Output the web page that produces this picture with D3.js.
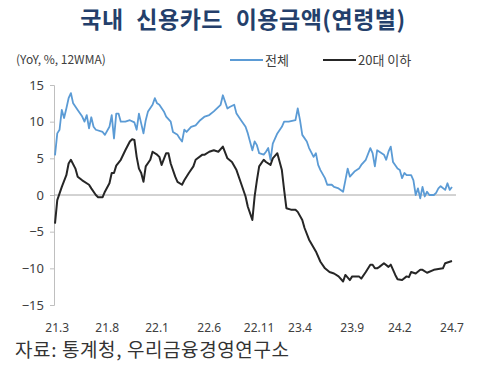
<!DOCTYPE html>
<html>
<head>
<meta charset="utf-8">
<script src="https://cdn.jsdelivr.net/npm/d3@7"></script>
<style>
  body { margin: 0; background: #fff; }
  svg { display: block; font-family: "Noto Sans CJK KR", "Noto Sans", sans-serif; }
</style>
</head>
<body>
<svg width="482" height="366"></svg>
<script>
// weekly 12WMA YoY, week 0 = first week of Mar 2021
var totalWeeks = [0,1,2,3,4,5,6,7,8,10,12,13,14,15,16,17,18,21,22,24,25,26,27,28,29,31,33,35,
  36,37,39,40,41,43,44,45,46,48,49,51,52,54,55,56,57,58,60,62,64,66,68,70,73,74,76,77,79,80,82,84,85,
  87,88,89,90,92,93,94,95,96,98,100,101,103,106,107,108,109,111,112,114,115,116,117,119,120,122,123,
  125,127,128,129,130,132,134,135,137,139,140,141,142,143,145,146,147,148,149,151,152,153,154,155,157,
  158,159,160,161,162,163,164,165,167,168,169,170,172,173,174,175];
var totalValues = [5.4,8.4,8.9,11.6,10.5,11.8,13.2,13.9,12.5,11.6,10.7,10.0,10.9,9.1,10.6,9.3,8.9,8.6,8.2,9.3,10.9,7.7,11.1,11.1,10.0,10.0,10.2,9.9,
  8.9,11.1,8.4,10.2,11.4,12.3,13.2,12.5,12.3,11.4,10.7,10.0,8.6,8.2,7.7,7.3,8.9,8.6,9.3,9.5,10.2,10.7,10.9,11.4,12.3,13.6,11.8,12.0,12.3,11.1,10.2,9.3,8.4,
  6.1,7.3,6.8,5.7,5.5,5.9,6.4,4.8,7.0,8.4,9.3,10.0,10.0,10.2,11.8,10.2,8.2,7.3,6.4,5.2,5.7,4.1,3.4,2.3,1.4,1.4,1.1,
  0.9,0.45,2.0,3.6,2.5,3.2,3.6,4.1,4.8,6.4,5.7,3.9,6.1,5.9,5.5,4.8,5.9,6.6,4.5,3.6,3.4,2.3,3.0,2.7,2.7,
  2.0,0.0,0.9,-0.45,1.1,-0.2,0.45,0.0,0.0,0.3,0.9,1.2,0.7,1.6,0.7,1.1];

var youngWeeks = [0,1,3,5,6,7,9,10,12,15,16,18,19,21,22,24,25,26,27,29,31,33,34,35,36,37,38,39,40,42,43,45,46,47,
  49,50,51,53,54,56,57,59,61,62,65,66,68,70,72,74,76,78,80,82,84,85,87,88,89,90,92,93,95,96,98,100,101,102,
  104,106,107,109,110,112,115,117,119,121,123,125,127,128,130,131,134,135,137,139,140,141,142,143,145,147,148,
  150,151,153,155,156,157,159,161,162,164,167,169,171,172,174,175];
var youngValues = [-3.9,-0.7,1.1,2.7,4.3,4.8,3.6,2.5,2.0,1.4,0.9,0.0,-0.3,-0.3,0.45,1.6,3.0,3.0,4.0,4.8,6.1,7.3,7.6,7.5,5.2,3.6,3.0,1.8,3.9,4.8,5.9,5.5,5.2,4.1,
  5.7,5.7,4.3,2.5,1.8,1.4,2.0,3.0,3.9,4.8,5.5,5.5,5.9,6.1,5.9,6.6,5.0,4.5,3.4,1.6,-0.2,-1.6,-3.4,-0.2,2.0,3.9,4.8,4.5,4.1,5.0,5.7,3.4,0.7,-1.8,
  -2.0,-2.0,-2.3,-3.4,-4.5,-6.1,-7.7,-9.1,-10.0,-10.5,-10.7,-11.1,-11.8,-10.9,-11.6,-11.1,-11.1,-11.4,-10.5,-9.5,-9.5,-10.0,-10.0,-9.8,-9.3,-9.8,-9.5,
  -10.9,-11.5,-11.6,-11.1,-11.2,-10.5,-10.7,-10.2,-10.2,-10.6,-10.2,-10.1,-10.0,-9.3,-9.1,-9.0];

var tickWeeks = [1,23,45,68,90,108,131,152,175];
var tickLabels = ["21.3","21.8","22.1","22.6","22.11","23.4","23.9","24.2","24.7"];
var yTicks = [15,10,5,0,-5,-10,-15];

var svg = d3.select("svg");
var x = d3.scaleLinear().domain([0,175]).range([55,452]);
var y = d3.scaleLinear().domain([-15,15]).range([305,85]);

// title
svg.append("text")
  .attr("x", 243).attr("y", 28)
  .attr("text-anchor", "middle")
  .attr("font-size", 23).attr("font-weight", "bold")
  .attr("word-spacing", 7).attr("letter-spacing", 0.5)
  .attr("fill", "#243f6b")
  .text("국내 신용카드 이용금액(연령별)");

svg.append("text")
  .attr("x", 16).attr("y", 64)
  .attr("font-size", 12).attr("fill", "#404040")
  .text("(YoY, %, 12WMA)");

// legend
var legend = [
  {name: "전체", color: "#5b9bd5", x: 230},
  {name: "20대 이하", color: "#262626", x: 323}
];
var lg = svg.append("g").selectAll("g").data(legend).enter().append("g");
lg.append("line")
  .attr("x1", function(d){ return d.x; }).attr("x2", function(d){ return d.x + 33; })
  .attr("y1", 60).attr("y2", 60)
  .attr("stroke", function(d){ return d.color; }).attr("stroke-width", 2);
lg.append("text")
  .attr("x", function(d){ return d.x + 35; }).attr("y", 65)
  .attr("font-size", 13).attr("fill", "#404040")
  .text(function(d){ return d.name; });

// y axis
var yAxis = svg.append("g")
  .attr("transform", "translate(54,0)")
  .call(d3.axisLeft(y).tickValues(yTicks).tickSize(4).tickPadding(6));
yAxis.select(".domain").attr("stroke", "#bfbfbf");
yAxis.selectAll(".tick line").attr("stroke", "#bfbfbf");
yAxis.selectAll("text").attr("font-size", 13).attr("fill", "#404040")
  .attr("font-family", "Noto Sans, sans-serif");

// zero line
svg.append("line")
  .attr("x1", 54).attr("x2", 456)
  .attr("y1", y(0)).attr("y2", y(0))
  .attr("stroke", "#a6a6a6").attr("stroke-width", 1);

// x labels
svg.append("g").selectAll("text")
  .data(tickWeeks).enter().append("text")
  .attr("x", function(d){ return x(d); }).attr("y", 332)
  .attr("text-anchor", "middle")
  .attr("font-size", 12).attr("fill", "#404040")
  .attr("font-family", "Noto Sans, sans-serif")
  .text(function(d, i){ return tickLabels[i]; });

var line = d3.line()
  .x(function(d){ return x(d[0]); })
  .y(function(d){ return y(d[1]); });

svg.append("path")
  .datum(d3.zip(totalWeeks, totalValues))
  .attr("d", line)
  .attr("fill", "none").attr("stroke", "#5b9bd5")
  .attr("stroke-width", 1.8).attr("stroke-linejoin", "round");

svg.append("path")
  .datum(d3.zip(youngWeeks, youngValues))
  .attr("d", line)
  .attr("fill", "none").attr("stroke", "#262626")
  .attr("stroke-width", 2).attr("stroke-linejoin", "round");

// source
svg.append("text")
  .attr("x", 15).attr("y", 357)
  .attr("font-size", 19).attr("letter-spacing", 0.6).attr("fill", "#333")
  .text("자료: 통계청, 우리금융경영연구소");
</script>
</body>
</html>
